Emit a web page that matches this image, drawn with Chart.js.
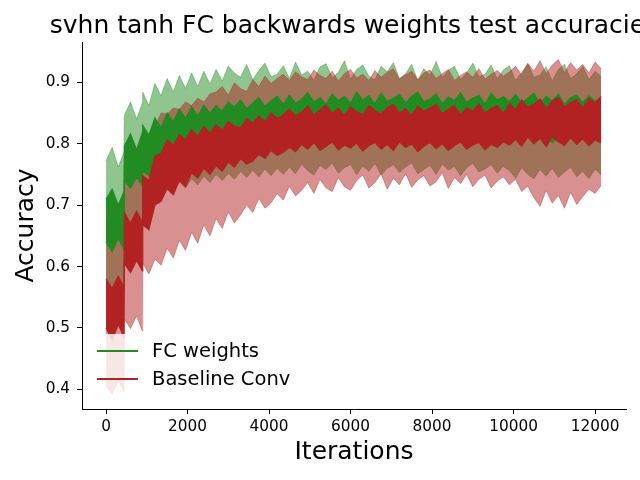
<!DOCTYPE html>
<html>
<head>
<meta charset="utf-8">
<script src="https://cdn.jsdelivr.net/npm/chart.js@4.4.0/dist/chart.umd.min.js"></script>
<style>
  body { margin: 0; background: #fff; }
  #wrap { width: 640px; height: 480px; }
</style>
</head>
<body>
<div id="wrap"><canvas id="myChart" width="640" height="480"></canvas></div>
<script>
// iterations (x) and read-off envelopes of each run
const iterations = [0,150,300,440,450,600,750,890,900,1050,1200,1350,1500,1650,1800,1950,2100,2250,2400,2550,2700,2850,3000,3150,3300,3450,3600,3750,3900,4050,4200,4350,4500,4650,4800,4950,5100,5250,5400,5550,5700,5850,6000,6150,6300,6450,6600,6750,6900,7050,7200,7350,7500,7650,7800,7950,8100,8250,8400,8550,8700,8850,9000,9150,9300,9450,9600,9750,9900,10050,10200,10350,10500,10650,10800,10950,11100,11250,11400,11550,11700,11850,12000,12150];

// FC weights: spread of the noisy mean line (hi/lo) and std band (upper/lower)
const fcUpper = [0.772,0.794,0.762,0.786,0.846,0.868,0.840,0.866,
  0.884,0.862,0.898,0.878,0.906,0.884,0.911,0.890,0.915,0.893,0.918,0.897,
  0.921,0.902,0.926,0.915,0.908,0.929,0.904,0.919,0.931,0.909,0.913,0.927,
  0.906,0.933,0.912,0.918,0.903,0.925,0.930,0.907,0.916,0.935,0.905,0.921,
  0.928,0.910,0.904,0.926,0.917,0.932,0.906,0.914,0.929,0.903,0.922,0.911,
  0.934,0.908,0.919,0.926,0.904,0.915,0.931,0.909,0.913,0.928,0.905,0.920,
  0.927,0.903,0.916,0.930,0.908,0.912,0.925,0.902,0.921,0.929,0.906,0.914,
  0.926,0.904,0.918,0.909];
const fcMeanHi = [0.710,0.726,0.700,0.722,0.796,0.816,0.790,0.818,
  0.830,0.814,0.842,0.826,0.850,0.835,0.856,0.841,0.860,0.845,0.863,0.849,
  0.862,0.853,0.868,0.859,0.871,0.857,0.866,0.875,0.861,0.870,0.877,0.864,
  0.879,0.866,0.872,0.883,0.868,0.875,0.864,0.881,0.870,0.877,0.866,0.884,
  0.871,0.878,0.865,0.882,0.869,0.874,0.880,0.866,0.877,0.884,0.868,0.873,
  0.881,0.865,0.876,0.870,0.883,0.867,0.874,0.879,0.864,0.882,0.871,0.877,
  0.868,0.880,0.866,0.874,0.882,0.865,0.877,0.870,0.881,0.864,0.875,0.879,
  0.867,0.878,0.870,0.874];
const fcMeanLo = [0.640,0.624,0.646,0.628,0.740,0.728,0.746,0.732,
  0.756,0.748,0.772,0.764,0.780,0.772,0.787,0.779,0.792,0.784,0.796,0.788,
  0.799,0.791,0.802,0.794,0.804,0.796,0.805,0.798,0.806,0.799,0.808,0.800,
  0.809,0.803,0.814,0.806,0.811,0.802,0.813,0.808,0.804,0.815,0.807,0.810,
  0.803,0.812,0.806,0.814,0.801,0.809,0.813,0.805,0.811,0.803,0.815,0.808,
  0.806,0.813,0.802,0.810,0.814,0.804,0.809,0.812,0.803,0.811,0.807,0.813,
  0.801,0.810,0.804,0.812,0.800,0.808,0.811,0.802,0.809,0.803,0.812,0.805,
  0.810,0.801,0.808,0.804];
const fcLower = [0.578,0.564,0.584,0.567,0.688,0.670,0.692,0.668,
  0.706,0.695,0.720,0.710,0.730,0.720,0.738,0.728,0.743,0.733,0.747,0.737,
  0.750,0.740,0.752,0.742,0.755,0.745,0.757,0.746,0.759,0.748,0.760,0.750,
  0.762,0.751,0.767,0.756,0.749,0.765,0.758,0.769,0.752,0.761,0.766,0.750,
  0.764,0.755,0.768,0.749,0.760,0.766,0.753,0.762,0.769,0.751,0.758,0.765,
  0.750,0.767,0.757,0.763,0.748,0.761,0.768,0.754,0.759,0.766,0.752,0.763,
  0.756,0.744,0.761,0.750,0.743,0.758,0.747,0.760,0.745,0.754,0.762,0.746,
  0.755,0.743,0.759,0.749];

// Baseline Conv
const bcUpper = [0.672,0.686,0.666,0.683,0.764,0.778,0.759,0.776,
  0.800,0.816,0.826,0.850,0.848,0.858,0.856,0.868,0.862,0.874,0.868,0.881,
  0.884,0.893,0.879,0.899,0.890,0.885,0.904,0.893,0.910,0.898,0.906,0.913,
  0.903,0.917,0.909,0.904,0.920,0.911,0.906,0.918,0.902,0.914,0.921,0.907,
  0.913,0.903,0.919,0.908,0.916,0.922,0.905,0.912,0.918,0.904,0.915,0.920,
  0.906,0.914,0.921,0.903,0.911,0.917,0.908,0.922,0.905,0.913,0.919,0.910,
  0.917,0.926,0.912,0.931,0.918,0.935,0.914,0.928,0.937,0.916,0.932,0.920,
  0.929,0.915,0.933,0.922];
const bcMeanHi = [0.580,0.564,0.584,0.566,0.688,0.670,0.690,0.672,
  0.748,0.740,0.780,0.784,0.806,0.797,0.815,0.806,0.823,0.812,0.828,0.817,
  0.831,0.822,0.836,0.829,0.826,0.841,0.833,0.845,0.836,0.850,0.841,0.847,
  0.856,0.845,0.851,0.861,0.847,0.855,0.863,0.849,0.858,0.846,0.860,0.852,
  0.847,0.862,0.854,0.848,0.859,0.864,0.850,0.857,0.846,0.861,0.853,0.858,
  0.864,0.849,0.856,0.862,0.847,0.859,0.853,0.865,0.850,0.857,0.862,0.848,
  0.866,0.855,0.871,0.859,0.864,0.873,0.857,0.869,0.875,0.860,0.867,0.872,
  0.858,0.874,0.866,0.877];
const bcMeanLo = [0.500,0.480,0.506,0.485,0.605,0.590,0.610,0.593,
  0.668,0.660,0.700,0.706,0.727,0.717,0.740,0.730,0.753,0.744,0.760,0.750,
  0.764,0.755,0.770,0.762,0.776,0.767,0.772,0.783,0.776,0.789,0.781,0.786,
  0.794,0.787,0.799,0.791,0.802,0.789,0.796,0.803,0.790,0.798,0.793,0.801,
  0.788,0.797,0.802,0.791,0.799,0.789,0.803,0.794,0.800,0.787,0.796,0.802,
  0.792,0.800,0.789,0.797,0.803,0.791,0.798,0.802,0.790,0.799,0.794,0.803,
  0.798,0.807,0.796,0.811,0.800,0.809,0.795,0.812,0.803,0.797,0.810,0.799,
  0.808,0.797,0.806,0.801];
const bcLower = [0.406,0.392,0.414,0.396,0.515,0.499,0.520,0.495,
  0.606,0.588,0.612,0.602,0.630,0.614,0.643,0.626,0.656,0.638,0.668,0.650,
  0.678,0.662,0.689,0.671,0.684,0.700,0.688,0.711,0.695,0.704,0.719,0.708,
  0.731,0.715,0.724,0.737,0.719,0.742,0.728,0.722,0.745,0.730,0.724,0.740,
  0.749,0.728,0.737,0.751,0.726,0.744,0.733,0.752,0.729,0.741,0.748,0.731,
  0.738,0.753,0.727,0.745,0.735,0.750,0.730,0.742,0.749,0.728,0.739,0.746,
  0.733,0.742,0.722,0.731,0.712,0.698,0.724,0.703,0.716,0.695,0.721,0.701,
  0.714,0.726,0.719,0.732];

const xTicks = [0, 2000, 4000, 6000, 8000, 10000, 12000];
const yTicks = [0.4, 0.5, 0.6, 0.7, 0.8, 0.9];
const seriesNames = ['FC weights', 'Baseline Conv'];

const GREEN = '#228b22';
const RED = '#b22222';
const GREEN_A = 'rgba(34,139,34,0.5)';
const RED_A = 'rgba(178,34,34,0.5)';
const FONT = "'DejaVu Sans', sans-serif";

function pts(arr) {
  return iterations.map((x, i) => ({ x: x, y: arr[i] }));
}

function band(arr, color, bw, fill, bg) {
  return {
    data: pts(arr),
    borderColor: color,
    borderWidth: bw,
    backgroundColor: bg || color,
    fill: fill,
    pointRadius: 0,
    tension: 0
  };
}

// drawn last index first: fc band, conv band, fc mean, conv mean
const datasets = [
  band(bcMeanHi, RED, 1.2, '+1', RED),
  band(bcMeanLo, RED, 1.2, false),
  band(fcMeanHi, GREEN, 1.2, '+1', GREEN),
  band(fcMeanLo, GREEN, 1.2, false),
  band(bcUpper, RED_A, 0.8, '+1', RED_A),
  band(bcLower, RED_A, 0.8, false),
  band(fcUpper, GREEN_A, 0.8, '+1', GREEN_A),
  band(fcLower, GREEN_A, 0.8, false)
];

const titlePlugin = {
  id: 'mplTitle',
  afterDraw(chart) {
    const ctx = chart.ctx;
    const area = chart.chartArea;
    ctx.save();
    ctx.fillStyle = '#000';
    ctx.font = '25px ' + FONT;
    ctx.textAlign = 'center';
    ctx.textBaseline = 'alphabetic';
    ctx.fillText('svhn tanh FC backwards weights test accuracies', (area.left + area.right) / 2, 33);
    ctx.restore();
  }
};

const legendPlugin = {
  id: 'mplLegend',
  afterDraw(chart) {
    const ctx = chart.ctx;
    ctx.save();
    ctx.fillStyle = 'rgba(255,255,255,0.8)';
    ctx.beginPath();
    ctx.roundRect(90, 334, 208, 65, 4);
    ctx.fill();
    const cols = [GREEN, RED];
    const rows = [351, 379];
    ctx.font = '19.5px ' + FONT;
    ctx.textBaseline = 'middle';
    ctx.textAlign = 'left';
    for (let i = 0; i < seriesNames.length; i++) {
      ctx.strokeStyle = cols[i];
      ctx.lineWidth = 2;
      ctx.beginPath();
      ctx.moveTo(97, rows[i]);
      ctx.lineTo(138, rows[i]);
      ctx.stroke();
      ctx.fillStyle = '#000';
      ctx.fillText(seriesNames[i], 152, rows[i] + 1);
    }
    ctx.restore();
  }
};

new Chart(document.getElementById('myChart'), {
  type: 'line',
  data: { datasets: datasets },
  plugins: [titlePlugin, legendPlugin],
  options: {
    responsive: false,
    animation: false,
    devicePixelRatio: 1,
    layout: { padding: { left: 0, right: 14, top: 42, bottom: 0 } },
    plugins: {
      legend: { display: false },
      tooltip: { enabled: false },
      filler: { propagate: false }
    },
    scales: {
      x: {
        type: 'linear',
        min: -590,
        max: 12760,
        afterFit(s) { s.height = 71; },
        afterBuildTicks(s) { s.ticks = xTicks.map(v => ({ value: v })); },
        grid: { display: true, drawOnChartArea: false, drawTicks: true, tickLength: 5, color: '#000' },
        border: { display: true, color: '#000', width: 1 },
        ticks: { color: '#000', font: { family: FONT, size: 15.3 }, padding: 4, maxRotation: 0,
          callback: v => String(v) },
        title: { display: true, text: 'Iterations', color: '#000', font: { family: FONT, size: 25 },
          padding: { top: 0, bottom: 13 } }
      },
      y: {
        type: 'linear',
        min: 0.368,
        max: 0.9656,
        afterFit(s) { s.width = 82; },
        afterBuildTicks(s) { s.ticks = yTicks.map(v => ({ value: v })); },
        grid: { display: true, drawOnChartArea: false, drawTicks: true, tickLength: 5, color: '#000' },
        border: { display: true, color: '#000', width: 1 },
        ticks: { color: '#000', font: { family: FONT, size: 15.3 }, padding: 7,
          callback: v => v.toFixed(1) },
        title: { display: true, text: 'Accuracy', color: '#000', font: { family: FONT, size: 25 },
          padding: { top: 11, bottom: 0 } }
      }
    }
  }
});
</script>
</body>
</html>
